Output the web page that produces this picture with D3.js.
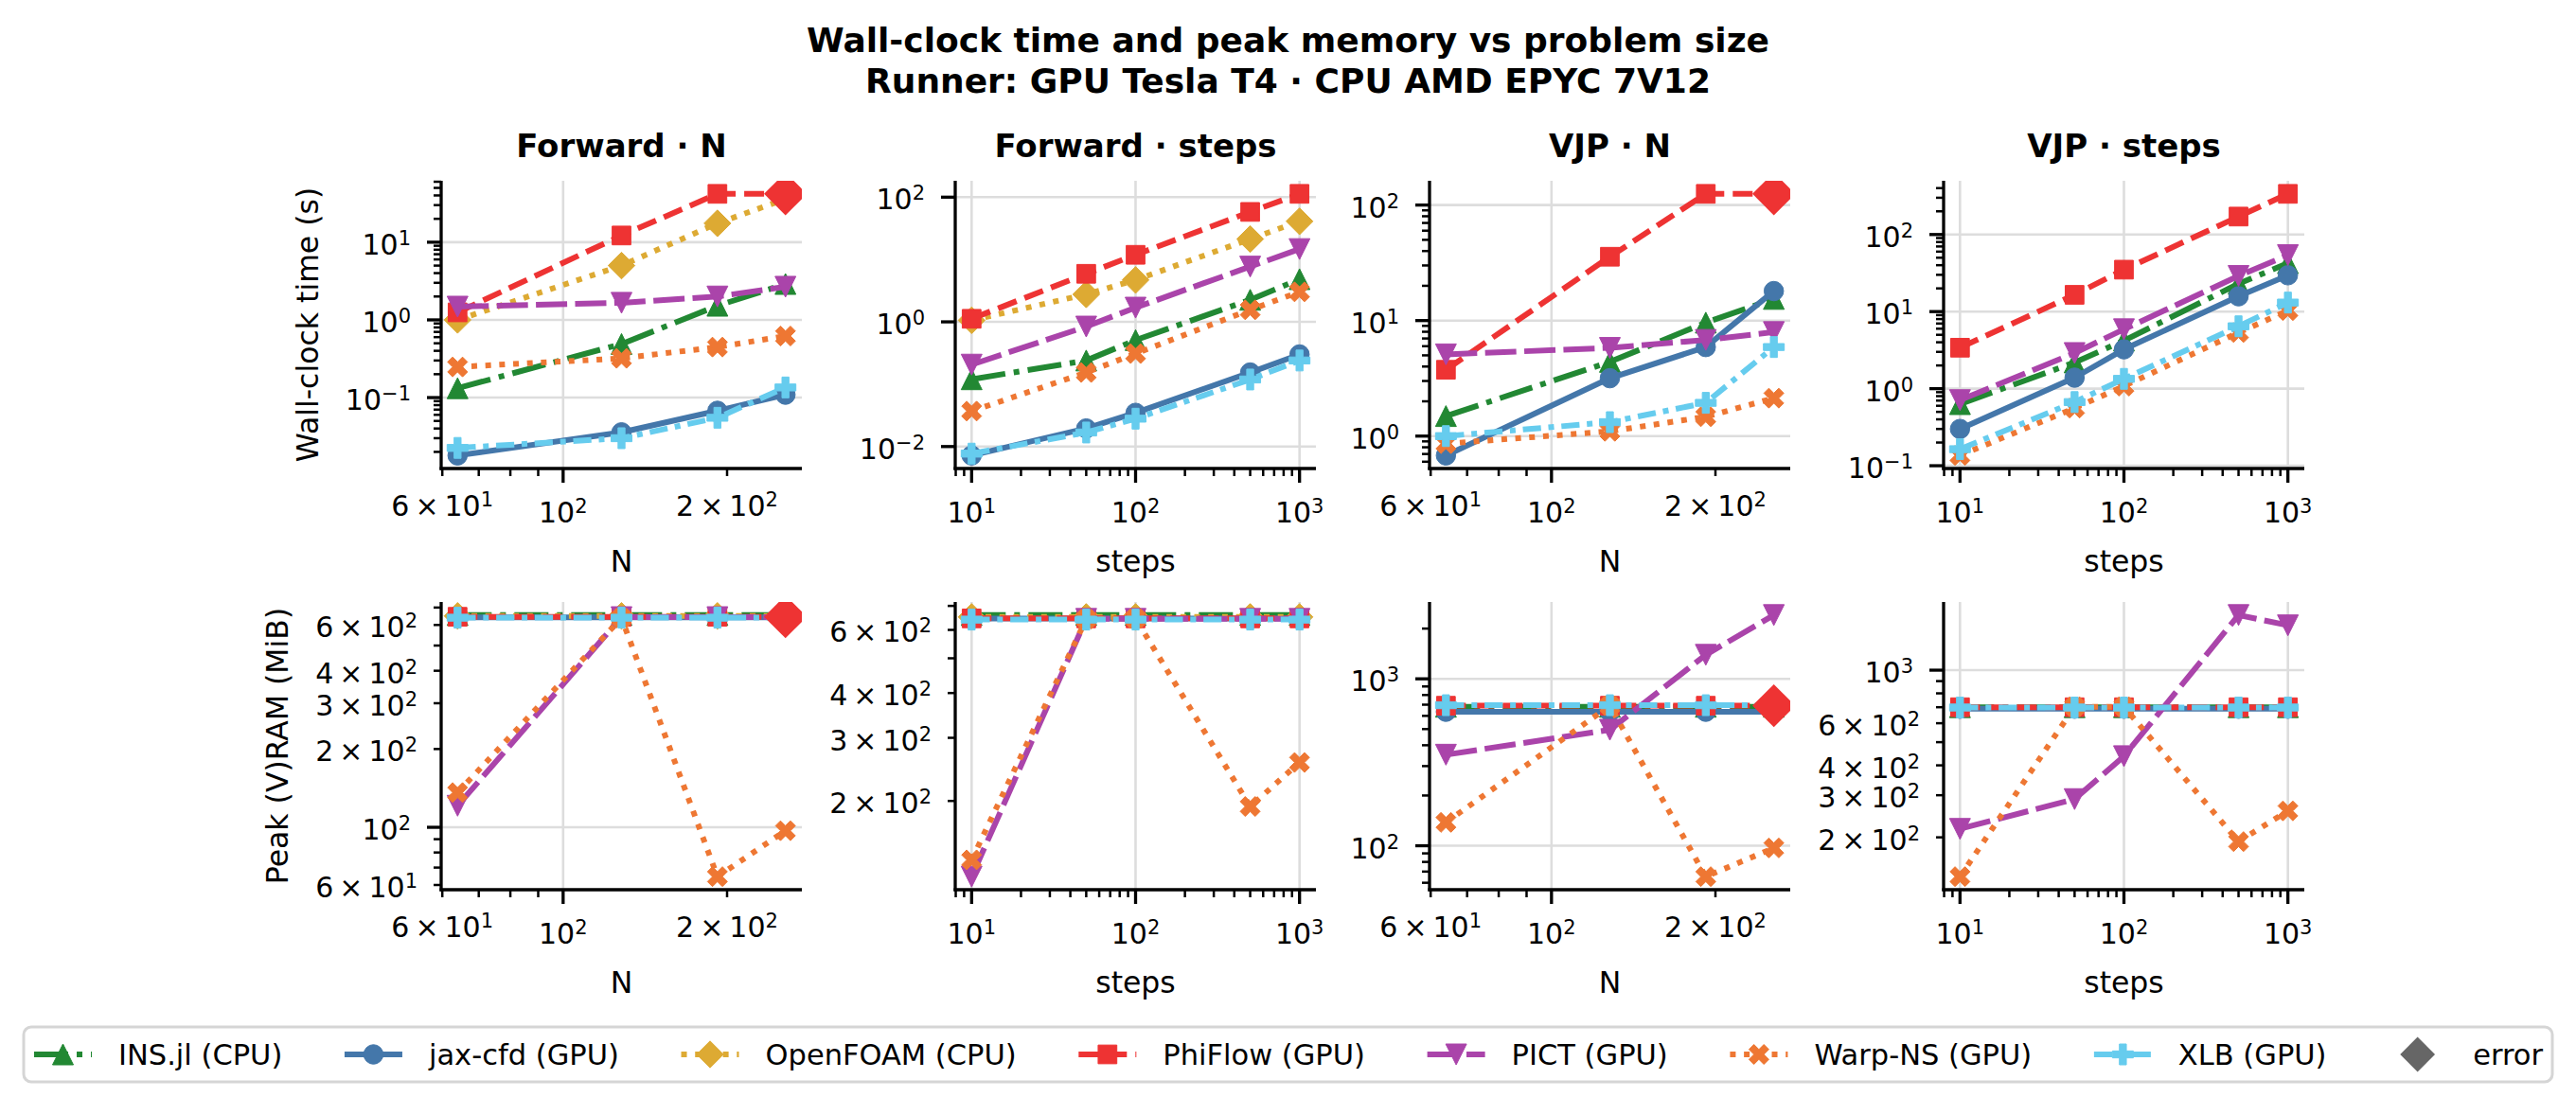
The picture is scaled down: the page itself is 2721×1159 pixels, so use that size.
<!DOCTYPE html>
<html>
<head>
<meta charset="utf-8">
<script src="https://cdn.jsdelivr.net/npm/d3@7"></script>
<style>
  body { margin: 0; background: #fff; }
  svg { display: block; font-family: "DejaVu Sans", sans-serif; }
</style>
</head>
<body>
<div id="chart"></div>
<script>
// ---------------- data ----------------
var seriesNames = ["INS.jl (CPU)", "jax-cfd (GPU)", "OpenFOAM (CPU)", "PhiFlow (GPU)", "PICT (GPU)", "Warp-NS (GPU)", "XLB (GPU)"];
var nValues = [64, 128, 192, 256];
var stepValues = [10, 50, 100, 500, 1000];
var titleLines = ["Wall-clock time and peak memory vs problem size", "Runner: GPU Tesla T4 \u00b7 CPU AMD EPYC 7V12"];
var panelTitles = ["Forward \u00b7 N", "Forward \u00b7 steps", "VJP \u00b7 N", "VJP \u00b7 steps"];
var xLabels = ["N", "steps", "N", "steps"];
var yLabels = ["Wall-clock time (s)", "Peak (V)RAM (MiB)"];
var ERR = "error";   // run failed at this size: drawn as a diamond at the last value

// wall-clock time (s), rows follow seriesNames
var timeFwdN = [
  [0.132, 0.49, 1.52, 2.9],
  [0.018, 0.0357, 0.0676, 0.109],
  [1.0, 5.0, 17.5, 36],
  [1.25, 12.2, 41.9, ERR],
  [1.48, 1.66, 2.0, 2.67],
  [0.248, 0.32, 0.447, 0.62],
  [0.0225, 0.030, 0.055, 0.135]
];
var timeFwdSteps = [
  [0.12, 0.24, 0.51, 2.26, 4.84],
  [0.0072, 0.0195, 0.0347, 0.154, 0.30],
  [1.06, 2.76, 4.7, 21.3, 41],
  [1.12, 5.9, 11.9, 58, 113],
  [0.206, 0.84, 1.69, 7.7, 14.7],
  [0.037, 0.154, 0.31, 1.56, 3.03],
  [0.0077, 0.0168, 0.028, 0.119, 0.24]
];
var timeVjpN = [
  [1.49, 4.39, 9.6, 15.4],
  [0.68, 3.17, 5.9, 18],
  null,
  [3.75, 35.7, 125, ERR],
  [5.1, 5.8, 6.8, 7.95],
  [0.86, 1.1, 1.47, 2.13],
  [1.0, 1.32, 1.94, 5.9]
];
var timeVjpSteps = [
  [0.63, 2.19, 4.2, 23, 42.5],
  [0.30, 1.39, 3.24, 15.8, 29.6],
  null,
  [3.4, 16.5, 35, 171, 337],
  [0.71, 2.9, 5.9, 29, 54],
  [0.136, 0.56, 1.08, 5.35, 10.3],
  [0.164, 0.67, 1.34, 6.45, 13.1]
];

// peak (V)RAM (MiB)
var memFwdN = [
  [655, 655, 655, 655],
  [642, 642, 642, 642],
  [650, 650, 650, 650],
  [645, 645, 645, ERR],
  [121, 643, 643, 643],
  [136, 638, 64.6, 97],
  [640, 640, 640, 640]
];
var memFwdSteps = [
  [660, 660, 660, 660, 660],
  [645, 645, 645, 645, 645],
  [652, 652, 652, 652, 652],
  [646, 646, 646, 646, 646],
  [123, 644, 644, 644, 644],
  [137, 643, 645, 193, 256],
  [641, 641, 641, 641, 641]
];
var memVjpN = [
  [680, 680, 680, 680],
  [635, 635, 635, 635],
  null,
  [690, 690, 690, ERR],
  [351, 495, 1393, 2410],
  [138, 690, 65.3, 97],
  [695, 695, 695, 695]
];
var memVjpSteps = [
  [700, 700, 700, 700, 700],
  [690, 690, 690, 690, 690],
  null,
  [700, 700, 700, 700, 700],
  [217, 289, 437, 1700, 1540],
  [137, 703, 703, 192, 258],
  [698, 698, 698, 698, 698]
];

// ---------------- styles ----------------
var seriesColors = ["#228833", "#4477aa", "#ddaa33", "#ee3333", "#aa44aa", "#ee7733", "#66ccee"];
var seriesMarkers = ["triangleUp", "circle", "diamond", "square", "triangleDown", "xFilled", "plusFilled"];
// dash patterns in units of line width (null = solid)
var seriesDashes = [[6, 1.5, 1, 1.5], null, [1, 1.45], [3.5, 1.5], [5.5, 1.4], [1, 1.45], [3.2, 1.3, 1, 1.3]];
var errorColor = "#666666";

var W = 2721, H = 1159;
var colX = [466, 1009, 1510, 2053], axW = 381;
var rowY = [191, 636], axH = 304;
var LW = 6;
var TICK_MAJ = 15, TICK_MIN = 8, PAD = 17;
var FS_TICK = 30, FS_SUP = 21, FS_LABEL = 31.5, FS_TITLE = 34, FS_SUPTITLE = 36, FS_LEGEND = 30.5;
var ERR_SIZE = 32, ERR_LEGEND_SIZE = 26;

var panels = [
  { row: 0, col: 0, xs: nValues, data: timeFwdN },
  { row: 0, col: 1, xs: stepValues, data: timeFwdSteps },
  { row: 0, col: 2, xs: nValues, data: timeVjpN },
  { row: 0, col: 3, xs: stepValues, data: timeVjpSteps },
  { row: 1, col: 0, xs: nValues, data: memFwdN },
  { row: 1, col: 1, xs: stepValues, data: memFwdSteps },
  { row: 1, col: 2, xs: nValues, data: memVjpN },
  { row: 1, col: 3, xs: stepValues, data: memVjpSteps }
];

// ---------------- helpers ----------------
function markerPath(type, s) {
  var h = s / 2, r;
  switch (type) {
    case "circle":
      return "M" + h + ",0A" + h + "," + h + " 0 1,1 " + (-h) + ",0A" + h + "," + h + " 0 1,1 " + h + ",0Z";
    case "square":
      h = s * 0.47;
      return "M" + (-h) + "," + (-h) + "H" + h + "V" + h + "H" + (-h) + "Z";
    case "triangleUp":
      return "M0," + (-h) + "L" + h + "," + h + "L" + (-h) + "," + h + "Z";
    case "triangleDown":
      return "M0," + h + "L" + h + "," + (-h) + "L" + (-h) + "," + (-h) + "Z";
    case "diamond":
      r = s * 0.7071;
      return "M0," + (-r) + "L" + r + ",0L0," + r + "L" + (-r) + ",0Z";
    case "plusFilled":
      return polygon([[-1, -3], [1, -3], [1, -1], [3, -1], [3, 1], [1, 1], [1, 3], [-1, 3], [-1, 1], [-3, 1], [-3, -1], [-1, -1]], s / 6);
    case "xFilled":
      return polygon([[-1, -2], [0, -1], [1, -2], [2, -1], [1, 0], [2, 1], [1, 2], [0, 1], [-1, 2], [-2, 1], [-1, 0], [-2, -1]], s / 4);
  }
}
function polygon(pts, k) {
  return "M" + pts.map(function(p) { return (p[0] * k) + "," + (p[1] * k); }).join("L") + "Z";
}
var markerSize = { circle: 20.5, square: 21, triangleUp: 22, triangleDown: 22, diamond: 20, plusFilled: 22, xFilled: 21 };

// matplotlib-like log ticks
function logTicks(domain, numticks) {
  var lo = Math.log10(domain[0]), hi = Math.log10(domain[1]);
  var numdec = Math.floor(hi) - Math.ceil(lo);
  var stride = Math.floor(numdec / numticks) + 1;
  if (stride >= numdec) stride = Math.max(1, numdec - 1);
  var majors = [], minors = [];
  var d, k;
  for (d = Math.ceil(lo - 1e-9); d <= Math.floor(hi + 1e-9); d++) {
    if (d % stride === 0) majors.push({ k: 1, d: d, v: Math.pow(10, d) });
  }
  if (stride === 1) {
    for (d = Math.floor(lo); d <= Math.ceil(hi); d++) {
      for (k = 2; k <= 9; k++) {
        var lv = Math.log10(k) + d;
        if (lv >= lo && lv <= hi) minors.push({ k: k, d: d, v: k * Math.pow(10, d) });
      }
    }
  }
  var labelMinor = majors.length <= 1;
  minors.forEach(function(m) { m.label = labelMinor && [2, 3, 4, 6].indexOf(m.k) >= 0; });
  return { majors: majors, minors: minors };
}

function logDomain(vals) {
  var l = vals.map(Math.log10);
  var a = d3.min(l), b = d3.max(l), m = (b - a) * 0.05;
  return [Math.pow(10, a - m), Math.pow(10, b + m)];
}

function tickLabel(g, t, x, y, anchor) {
  var txt = g.append("text").attr("x", x).attr("y", y)
    .attr("text-anchor", anchor).attr("font-size", FS_TICK).attr("fill", "#000");
  txt.append("tspan").text(t.k === 1 ? "10" : t.k + "\u2009\u00d7\u200910");
  txt.append("tspan").attr("font-size", FS_SUP).attr("dy", -10)
    .text(t.d < 0 ? "\u2212" + (-t.d) : String(t.d));
  return txt;
}

function seriesPoints(xs, vals) {
  var pts = [], err = null, last = null;
  vals.forEach(function(v, i) {
    if (v === ERR) {
      if (last !== null) { err = { x: xs[i], y: last }; pts.push(err); }
    } else if (v !== null) {
      pts.push({ x: xs[i], y: v });
      last = v;
    }
  });
  return { pts: pts, err: err };
}

function dashArray(dash) {
  return dash ? dash.map(function(v) { return v * LW; }).join(",") : null;
}

// ---------------- draw ----------------
var svg = d3.select("#chart").append("svg").attr("width", W).attr("height", H);
svg.append("rect").attr("width", W).attr("height", H).attr("fill", "#fff");
var defs = svg.append("defs");

svg.append("text").attr("x", W / 2).attr("y", 55).attr("text-anchor", "middle")
  .attr("font-size", FS_SUPTITLE).attr("font-weight", "bold").text(titleLines[0]);
svg.append("text").attr("x", W / 2).attr("y", 98).attr("text-anchor", "middle")
  .attr("font-size", FS_SUPTITLE).attr("font-weight", "bold").text(titleLines[1]);

panels.forEach(function(p, pi) {
  var x0 = colX[p.col], y0 = rowY[p.row];
  var g = svg.append("g").attr("class", "panel");

  var series = [];
  var allY = [];
  p.data.forEach(function(vals, si) {
    if (!vals) return;
    var sp = seriesPoints(p.xs, vals);
    sp.si = si;
    series.push(sp);
    sp.pts.forEach(function(d) { allY.push(d.y); });
  });

  var x = d3.scaleLog().domain(logDomain(p.xs)).range([x0, x0 + axW]);
  var y = d3.scaleLog().domain(logDomain(allY)).range([y0 + axH, y0]);
  var xt = logTicks(x.domain(), 3);
  var yt = logTicks(y.domain(), 4);

  // grid (major ticks only)
  var grid = g.append("g").attr("stroke", "#dddddd").attr("stroke-width", 2.6);
  xt.majors.forEach(function(t) {
    grid.append("line").attr("x1", x(t.v)).attr("x2", x(t.v)).attr("y1", y0).attr("y2", y0 + axH);
  });
  yt.majors.forEach(function(t) {
    grid.append("line").attr("x1", x0).attr("x2", x0 + axW).attr("y1", y(t.v)).attr("y2", y(t.v));
  });

  // series
  var clipId = "clip" + pi;
  defs.append("clipPath").attr("id", clipId).append("rect")
    .attr("x", x0).attr("y", y0).attr("width", axW).attr("height", axH);
  var plot = g.append("g").attr("clip-path", "url(#" + clipId + ")");
  var line = d3.line().x(function(d) { return x(d.x); }).y(function(d) { return y(d.y); });

  series.forEach(function(sp) {
    var si = sp.si, col = seriesColors[si], dash = seriesDashes[si];
    plot.append("path").attr("d", line(sp.pts)).attr("fill", "none")
      .attr("stroke", col).attr("stroke-width", LW)
      .attr("stroke-linejoin", "round")
      .attr("stroke-linecap", dash ? "butt" : "square")
      .attr("stroke-dasharray", dashArray(dash));
    var mk = seriesMarkers[si];
    plot.selectAll(null).data(sp.pts.filter(function(d) { return d !== sp.err; })).enter()
      .append("path")
      .attr("transform", function(d) { return "translate(" + x(d.x) + "," + y(d.y) + ")"; })
      .attr("d", markerPath(mk, markerSize[mk]))
      .attr("fill", col).attr("stroke", col).attr("stroke-width", 1);
  });
  // failed runs on top
  series.forEach(function(sp) {
    if (!sp.err) return;
    plot.append("path")
      .attr("transform", "translate(" + x(sp.err.x) + "," + y(sp.err.y) + ")")
      .attr("d", markerPath("diamond", ERR_SIZE))
      .attr("fill", seriesColors[sp.si]);
  });

  // spines
  var ax = g.append("g").attr("stroke", "#000");
  ax.append("line").attr("x1", x0).attr("x2", x0).attr("y1", y0).attr("y2", y0 + axH + 1.6).attr("stroke-width", 3.3);
  ax.append("line").attr("x1", x0 - 1.6).attr("x2", x0 + axW).attr("y1", y0 + axH).attr("y2", y0 + axH).attr("stroke-width", 3.3);

  // x ticks
  var yb = y0 + axH;
  xt.majors.forEach(function(t) {
    ax.append("line").attr("x1", x(t.v)).attr("x2", x(t.v)).attr("y1", yb).attr("y2", yb + TICK_MAJ).attr("stroke-width", 3.3);
    tickLabel(g, t, x(t.v), yb + TICK_MAJ + PAD + 25, "middle");
  });
  xt.minors.forEach(function(t) {
    ax.append("line").attr("x1", x(t.v)).attr("x2", x(t.v)).attr("y1", yb).attr("y2", yb + TICK_MIN).attr("stroke-width", 2.5);
    if (t.label) tickLabel(g, t, x(t.v), yb + TICK_MIN + PAD + 25, "middle");
  });

  // y ticks
  var ylabs = [];
  yt.majors.forEach(function(t) {
    ax.append("line").attr("x1", x0 - TICK_MAJ).attr("x2", x0).attr("y1", y(t.v)).attr("y2", y(t.v)).attr("stroke-width", 3.3);
    ylabs.push(tickLabel(g, t, x0 - TICK_MAJ - PAD, y(t.v) + 13, "end"));
  });
  yt.minors.forEach(function(t) {
    ax.append("line").attr("x1", x0 - TICK_MIN).attr("x2", x0).attr("y1", y(t.v)).attr("y2", y(t.v)).attr("stroke-width", 2.5);
    if (t.label) ylabs.push(tickLabel(g, t, x0 - TICK_MIN - PAD, y(t.v) + 13, "end"));
  });

  // titles and axis labels
  if (p.row === 0) {
    g.append("text").attr("x", x0 + axW / 2).attr("y", y0 - 25).attr("text-anchor", "middle")
      .attr("font-size", FS_TITLE).attr("font-weight", "bold").text(panelTitles[p.col]);
  }
  g.append("text").attr("x", x0 + axW / 2).attr("y", yb + 109).attr("text-anchor", "middle")
    .attr("font-size", FS_LABEL).text(xLabels[p.col]);
  if (p.col === 0) {
    var minX = d3.min(ylabs, function(t) { return t.node().getBBox().x; });
    var lx = minX - 29, ly = y0 + axH / 2;
    g.append("text").attr("transform", "translate(" + lx + "," + ly + ") rotate(-90)")
      .attr("text-anchor", "middle").attr("font-size", FS_LABEL).text(yLabels[p.row]);
  }
});

// ---------------- legend ----------------
var legendItems = seriesNames.map(function(n, i) { return { label: n, si: i }; });
legendItems.push({ label: "error", si: -1 });
var box = { x: 25, y: 1085, w: 2671, h: 58 };
var leg = svg.append("g");
leg.append("rect").attr("x", box.x).attr("y", box.y).attr("width", box.w).attr("height", box.h)
  .attr("rx", 8).attr("fill", "#fff").attr("stroke", "#d5d5d5").attr("stroke-width", 3);
var HANDLE = 61, HPAD = 28, cy = box.y + box.h / 2;
var texts = legendItems.map(function(it) {
  return leg.append("text").attr("y", cy + 11).attr("font-size", FS_LEGEND).text(it.label);
});
var widths = texts.map(function(t) { return HANDLE + HPAD + t.node().getComputedTextLength(); });
var gap = (box.w - 11 - 10 - d3.sum(widths)) / (legendItems.length - 1);
var cx = box.x + 11;
legendItems.forEach(function(it, i) {
  var hx = cx;
  texts[i].attr("x", hx + HANDLE + HPAD);
  if (it.si >= 0) {
    var col = seriesColors[it.si], dash = seriesDashes[it.si], mk = seriesMarkers[it.si];
    leg.append("line").attr("x1", hx).attr("x2", hx + HANDLE).attr("y1", cy).attr("y2", cy)
      .attr("stroke", col).attr("stroke-width", LW)
      .attr("stroke-dasharray", dashArray(dash));
    leg.append("path").attr("transform", "translate(" + (hx + HANDLE / 2) + "," + cy + ")")
      .attr("d", markerPath(mk, markerSize[mk])).attr("fill", col).attr("stroke", col).attr("stroke-width", 1);
  } else {
    leg.append("path").attr("transform", "translate(" + (hx + HANDLE / 2) + "," + cy + ")")
      .attr("d", markerPath("diamond", ERR_LEGEND_SIZE)).attr("fill", errorColor);
  }
  cx += widths[i] + gap;
});
</script>
</body>
</html>
